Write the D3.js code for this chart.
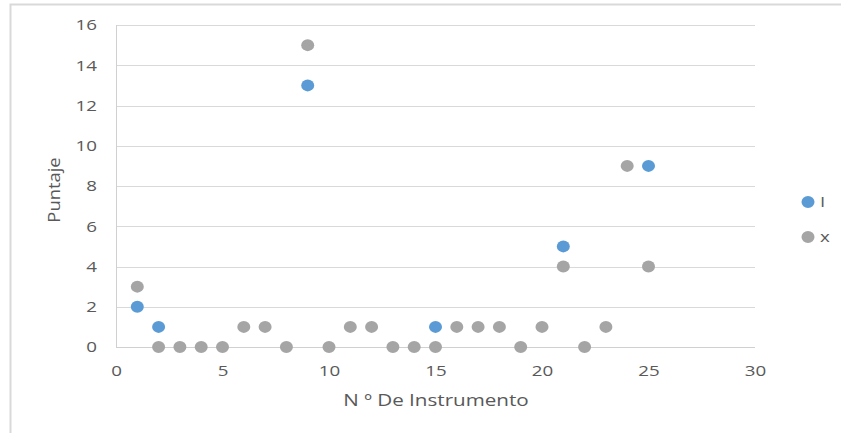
<!DOCTYPE html>
<html>
<head>
<meta charset="utf-8">
<script src="https://cdn.jsdelivr.net/npm/d3@7"></script>
<style>
  body { margin: 0; background: #fff; }
  text { font-family: "Open Sans", sans-serif; fill: #595959; }
</style>
</head>
<body>
<svg id="chart" width="841" height="433"></svg>
<script>
// series "I"
const iX = [1, 2, 9, 15, 21, 25];
const iY = [2, 1, 13, 1, 5, 9];
// series "x"
const xX = [1, 2, 3, 4, 5, 6, 7, 8, 9, 10, 11, 12, 13, 14, 15, 16, 17, 18, 19, 20, 21, 22, 23, 24, 25];
const xY = [3, 0, 0, 0, 0, 1, 1, 0, 15, 0, 1, 1, 0, 0, 0, 1, 1, 1, 0, 1, 4, 0, 1, 9, 4];
const xTicks = [0, 5, 10, 15, 20, 25, 30];
const yTicks = [0, 2, 4, 6, 8, 10, 12, 14, 16];
const seriesNames = ["I", "x"];
const seriesColors = ["#5b9bd5", "#a5a5a5"];

const svg = d3.select("#chart");
const plot = {left: 116, right: 755, top: 25, bottom: 347};
const stretch = 1.25; // the reference font is wider than Open Sans

const x = d3.scaleLinear().domain([0, 30]).range([plot.left, plot.right]);
const y = d3.scaleLinear().domain([0, 16]).range([plot.bottom, plot.top]);

// chart frame
svg.append("path")
    .attr("d", `M 10.5 433 L 10.5 4.5 L 841 4.5`)
    .attr("fill", "none")
    .attr("stroke", "#d9d9d9")
    .attr("stroke-width", 2);

// gridlines
svg.append("g")
    .selectAll("line")
    .data(yTicks.filter(d => d > 0))
    .join("line")
    .attr("x1", plot.left)
    .attr("x2", plot.right)
    .attr("y1", d => Math.round(y(d)) + 0.5)
    .attr("y2", d => Math.round(y(d)) + 0.5)
    .attr("stroke", "#d9d9d9")
    .attr("stroke-width", 1);

// axis lines
svg.append("line")
    .attr("x1", plot.left).attr("x2", plot.right)
    .attr("y1", plot.bottom + 0.5).attr("y2", plot.bottom + 0.5)
    .attr("stroke", "#d0d0d0");
svg.append("line")
    .attr("x1", plot.left + 0.5).attr("x2", plot.left + 0.5)
    .attr("y1", plot.top).attr("y2", plot.bottom)
    .attr("stroke", "#d0d0d0");

// y tick labels
const yAxis = svg.append("g")
    .attr("transform", `translate(${plot.left - 19},0)`)
    .call(d3.axisLeft(y).tickValues(yTicks).tickSize(0).tickPadding(0));
yAxis.select(".domain").remove();
yAxis.selectAll("text")
    .attr("font-size", 15)
    .attr("font-family", "Open Sans, sans-serif")
    .attr("transform", `scale(${stretch},1)`)
    .style("fill", "#595959");

// x tick labels
const xAxis = svg.append("g")
    .attr("transform", `translate(0,${plot.bottom + 18})`)
    .call(d3.axisBottom(x).tickValues(xTicks).tickSize(0).tickPadding(0));
xAxis.select(".domain").remove();
xAxis.selectAll("text")
    .attr("font-size", 15)
    .attr("font-family", "Open Sans, sans-serif")
    .attr("transform", `scale(${stretch},1)`)
    .style("fill", "#595959");

// axis titles
svg.append("text")
    .attr("transform", `translate(436,406) scale(${stretch},1)`)
    .attr("text-anchor", "middle")
    .attr("font-size", 16.5)
    .text("N º De Instrumento");
svg.append("text")
    .attr("transform", `translate(60,190) rotate(-90) scale(1.15,1)`)
    .attr("text-anchor", "middle")
    .attr("font-size", 16)
    .text("Puntaje");

// points
const pointsI = iX.map((d, i) => ({x: d, y: iY[i]}));
const pointsX = xX.map((d, i) => ({x: d, y: xY[i]}));

[pointsI, pointsX].forEach((pts, k) => {
    svg.append("g")
        .selectAll("ellipse")
        .data(pts)
        .join("ellipse")
        .attr("cx", d => x(d.x))
        .attr("cy", d => y(d.y))
        .attr("rx", 6.5)
        .attr("ry", 6)
        .attr("fill", seriesColors[k]);
});

// legend
const legend = svg.append("g");
seriesNames.forEach((name, k) => {
    const ly = 202 + k * 35;
    legend.append("ellipse")
        .attr("cx", 808)
        .attr("cy", ly)
        .attr("rx", 6.5)
        .attr("ry", 6)
        .attr("fill", seriesColors[k]);
    legend.append("text")
        .attr("transform", `translate(820,${ly}) scale(${stretch},1)`)
        .attr("dy", "0.35em")
        .attr("font-size", 15)
        .text(name);
});
</script>
</body>
</html>
